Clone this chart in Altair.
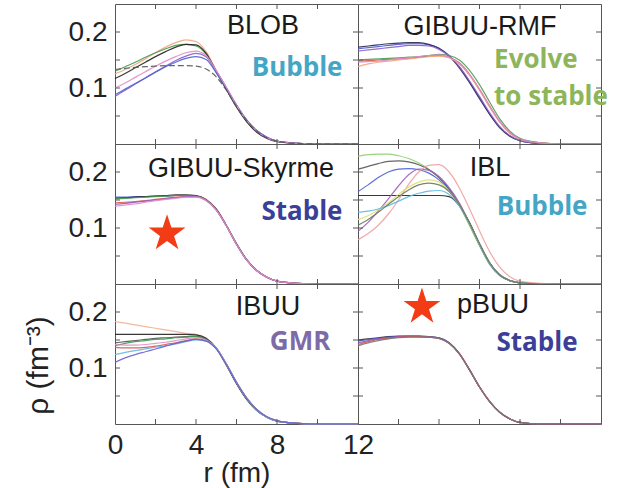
import altair as alt
import pandas as pd

# radial grid (fm)
R = [0, 0.5, 1, 1.5, 2, 2.5, 3, 3.5, 4, 4.5, 5, 5.5, 6, 6.5, 7, 7.5, 8, 9, 10, 12]

# ---------------- BLOB ----------------
BLOB_RUNS = ["orange", "green", "black", "dashed", "purple", "blue", "pink"]
BLOB_COLORS = ["#f3a37e", "#3e9a4c", "#222222", "#555555", "#8b5cc6", "#4a5fd0", "#e08cc8"]
BLOB_RHO = [
    [0.125, 0.133, 0.142, 0.152, 0.163, 0.173, 0.181, 0.186, 0.183, 0.165, 0.131, 0.100, 0.068, 0.042, 0.023, 0.012, 0.005, 0.001, 0, 0],
    [0.130, 0.138, 0.146, 0.155, 0.163, 0.170, 0.176, 0.178, 0.175, 0.160, 0.128, 0.097, 0.066, 0.040, 0.022, 0.011, 0.005, 0.001, 0, 0],
    [0.117, 0.126, 0.136, 0.146, 0.156, 0.165, 0.173, 0.178, 0.177, 0.162, 0.130, 0.098, 0.066, 0.040, 0.021, 0.010, 0.004, 0.001, 0, 0],
    [0.133, 0.135, 0.137, 0.138, 0.139, 0.140, 0.140, 0.140, 0.139, 0.134, 0.120, 0.096, 0.067, 0.042, 0.023, 0.011, 0.005, 0.001, 0, 0],
    [0.085, 0.096, 0.107, 0.118, 0.129, 0.139, 0.149, 0.157, 0.162, 0.156, 0.130, 0.101, 0.070, 0.043, 0.024, 0.012, 0.005, 0.001, 0, 0],
    [0.088, 0.098, 0.108, 0.118, 0.128, 0.138, 0.146, 0.153, 0.156, 0.151, 0.127, 0.099, 0.069, 0.043, 0.024, 0.012, 0.005, 0.001, 0, 0],
    [0.100, 0.109, 0.119, 0.129, 0.139, 0.148, 0.156, 0.163, 0.166, 0.158, 0.131, 0.101, 0.069, 0.042, 0.023, 0.011, 0.005, 0.001, 0, 0],
]

# ---------------- GIBUU-RMF ----------------
RMF_RUNS = ["blue", "navy", "purple", "red", "orange", "green", "pink"]
RMF_COLORS = ["#4a5fd0", "#2a2a55", "#8b5cc6", "#d9534f", "#f3a37e", "#4e9a55", "#e08cc8"]
RMF_RHO = [
    [0.170, 0.172, 0.174, 0.176, 0.178, 0.179, 0.179, 0.177, 0.171, 0.158, 0.138, 0.112, 0.083, 0.054, 0.030, 0.014, 0.006, 0.001, 0, 0],
    [0.173, 0.175, 0.177, 0.179, 0.180, 0.181, 0.181, 0.178, 0.171, 0.157, 0.136, 0.110, 0.081, 0.053, 0.029, 0.014, 0.006, 0.001, 0, 0],
    [0.166, 0.168, 0.170, 0.172, 0.174, 0.176, 0.176, 0.175, 0.169, 0.157, 0.138, 0.113, 0.085, 0.056, 0.031, 0.015, 0.006, 0.001, 0, 0],
    [0.148, 0.149, 0.150, 0.151, 0.152, 0.153, 0.155, 0.157, 0.158, 0.155, 0.145, 0.125, 0.098, 0.068, 0.040, 0.020, 0.009, 0.002, 0, 0],
    [0.138, 0.143, 0.146, 0.148, 0.150, 0.152, 0.154, 0.156, 0.157, 0.154, 0.143, 0.123, 0.096, 0.066, 0.039, 0.019, 0.008, 0.002, 0, 0],
    [0.150, 0.151, 0.152, 0.153, 0.154, 0.155, 0.156, 0.158, 0.160, 0.158, 0.150, 0.132, 0.106, 0.075, 0.045, 0.023, 0.010, 0.002, 0, 0],
    [0.146, 0.147, 0.148, 0.150, 0.152, 0.154, 0.156, 0.158, 0.159, 0.155, 0.144, 0.124, 0.097, 0.067, 0.040, 0.020, 0.009, 0.002, 0, 0],
]

# ---------------- GIBUU-Skyrme ----------------
SKY_RUNS = ["blue", "black", "green", "red", "purple", "pink"]
SKY_COLORS = ["#4a5fd0", "#222222", "#4e9a55", "#d9534f", "#8b5cc6", "#e08cc8"]
SKY_RHO = [
    [0.155, 0.155, 0.156, 0.156, 0.157, 0.157, 0.158, 0.158, 0.157, 0.150, 0.133, 0.104, 0.071, 0.043, 0.024, 0.012, 0.005, 0.001, 0, 0],
    [0.153, 0.154, 0.155, 0.156, 0.157, 0.158, 0.159, 0.159, 0.158, 0.151, 0.134, 0.105, 0.072, 0.044, 0.024, 0.012, 0.005, 0.001, 0, 0],
    [0.152, 0.153, 0.154, 0.155, 0.156, 0.157, 0.158, 0.158, 0.157, 0.150, 0.133, 0.104, 0.071, 0.043, 0.024, 0.012, 0.005, 0.001, 0, 0],
    [0.145, 0.146, 0.147, 0.149, 0.151, 0.153, 0.155, 0.156, 0.156, 0.150, 0.133, 0.104, 0.071, 0.043, 0.024, 0.012, 0.005, 0.001, 0, 0],
    [0.142, 0.144, 0.146, 0.148, 0.150, 0.152, 0.154, 0.156, 0.156, 0.149, 0.132, 0.104, 0.071, 0.043, 0.024, 0.012, 0.005, 0.001, 0, 0],
    [0.139, 0.141, 0.143, 0.146, 0.149, 0.151, 0.153, 0.155, 0.155, 0.149, 0.132, 0.104, 0.071, 0.043, 0.024, 0.012, 0.005, 0.001, 0, 0],
]

# ---------------- IBL ----------------
IBL_RUNS = ["black", "green", "gray", "blue", "magenta", "pink", "yellow", "cyan", "olive"]
IBL_COLORS = ["#222222", "#8fcf6a", "#555555", "#4a5fd0", "#a05cc0", "#f0a0a0", "#e0e070", "#5fb8e0", "#6a7a5a"]
IBL_RHO = [
    [0.158, 0.158, 0.158, 0.158, 0.158, 0.158, 0.158, 0.158, 0.158, 0.156, 0.140, 0.110, 0.072, 0.038, 0.016, 0.006, 0.002, 0, 0, 0],
    [0.228, 0.231, 0.232, 0.232, 0.229, 0.224, 0.216, 0.205, 0.190, 0.168, 0.140, 0.105, 0.068, 0.035, 0.015, 0.006, 0.002, 0, 0, 0],
    [0.205, 0.210, 0.215, 0.219, 0.220, 0.218, 0.213, 0.204, 0.190, 0.170, 0.142, 0.107, 0.070, 0.037, 0.016, 0.006, 0.002, 0, 0, 0],
    [0.165, 0.177, 0.190, 0.200, 0.205, 0.206, 0.204, 0.198, 0.186, 0.168, 0.142, 0.108, 0.070, 0.036, 0.015, 0.006, 0.002, 0, 0, 0],
    [0.094, 0.110, 0.130, 0.152, 0.175, 0.195, 0.205, 0.203, 0.192, 0.172, 0.145, 0.110, 0.072, 0.038, 0.016, 0.006, 0.002, 0, 0, 0],
    [0.079, 0.090, 0.105, 0.125, 0.150, 0.178, 0.200, 0.212, 0.213, 0.200, 0.172, 0.135, 0.095, 0.058, 0.030, 0.013, 0.005, 0.001, 0, 0],
    [0.115, 0.122, 0.132, 0.145, 0.160, 0.173, 0.182, 0.186, 0.182, 0.166, 0.141, 0.107, 0.070, 0.037, 0.016, 0.006, 0.002, 0, 0, 0],
    [0.128, 0.130, 0.134, 0.140, 0.148, 0.156, 0.162, 0.166, 0.167, 0.160, 0.140, 0.108, 0.071, 0.037, 0.016, 0.006, 0.002, 0, 0, 0],
    [0.105, 0.115, 0.128, 0.142, 0.156, 0.168, 0.177, 0.180, 0.177, 0.165, 0.142, 0.109, 0.072, 0.038, 0.016, 0.006, 0.002, 0, 0, 0],
]

# ---------------- IBUU ----------------
IBUU_RUNS = ["orange", "black", "gray", "green", "red", "pink", "cyan", "purple"]
IBUU_COLORS = ["#f3b08e", "#222222", "#555555", "#3e9a4c", "#d9534f", "#e08cc8", "#5fb8e0", "#6a5fd0"]
IBUU_RHO = [
    [0.183, 0.180, 0.177, 0.174, 0.171, 0.168, 0.165, 0.162, 0.160, 0.153, 0.136, 0.106, 0.073, 0.045, 0.025, 0.012, 0.005, 0.001, 0, 0],
    [0.160, 0.160, 0.160, 0.160, 0.160, 0.160, 0.160, 0.160, 0.159, 0.153, 0.135, 0.105, 0.072, 0.044, 0.024, 0.012, 0.005, 0.001, 0, 0],
    [0.145, 0.147, 0.149, 0.151, 0.153, 0.154, 0.155, 0.156, 0.157, 0.152, 0.136, 0.107, 0.074, 0.046, 0.025, 0.012, 0.005, 0.001, 0, 0],
    [0.140, 0.144, 0.147, 0.149, 0.151, 0.152, 0.154, 0.155, 0.156, 0.151, 0.135, 0.106, 0.073, 0.045, 0.025, 0.012, 0.005, 0.001, 0, 0],
    [0.137, 0.136, 0.136, 0.137, 0.139, 0.142, 0.145, 0.149, 0.152, 0.149, 0.135, 0.107, 0.075, 0.047, 0.026, 0.013, 0.006, 0.001, 0, 0],
    [0.142, 0.141, 0.141, 0.142, 0.144, 0.146, 0.149, 0.152, 0.154, 0.150, 0.136, 0.107, 0.074, 0.046, 0.025, 0.012, 0.005, 0.001, 0, 0],
    [0.124, 0.128, 0.131, 0.134, 0.137, 0.140, 0.143, 0.147, 0.150, 0.148, 0.135, 0.107, 0.074, 0.046, 0.025, 0.012, 0.005, 0.001, 0, 0],
    [0.110, 0.118, 0.124, 0.129, 0.134, 0.139, 0.144, 0.148, 0.151, 0.148, 0.134, 0.106, 0.074, 0.046, 0.026, 0.013, 0.006, 0.001, 0, 0],
]

# ---------------- pBUU ----------------
PBUU_RUNS = ["black", "blue", "purple", "red", "gray"]
PBUU_COLORS = ["#222222", "#4a5fd0", "#8b5cc6", "#d9534f", "#777777"]
PBUU_RHO = [
    [0.150, 0.152, 0.154, 0.156, 0.157, 0.157, 0.157, 0.156, 0.154, 0.145, 0.126, 0.097, 0.066, 0.040, 0.021, 0.009, 0.003, 0, 0, 0],
    [0.148, 0.151, 0.153, 0.155, 0.156, 0.157, 0.157, 0.156, 0.154, 0.145, 0.126, 0.097, 0.066, 0.040, 0.021, 0.009, 0.003, 0, 0, 0],
    [0.145, 0.149, 0.152, 0.154, 0.156, 0.156, 0.156, 0.155, 0.153, 0.144, 0.125, 0.097, 0.066, 0.040, 0.021, 0.009, 0.003, 0, 0, 0],
    [0.142, 0.147, 0.151, 0.153, 0.155, 0.156, 0.156, 0.155, 0.153, 0.144, 0.126, 0.098, 0.067, 0.041, 0.021, 0.009, 0.003, 0, 0, 0],
    [0.140, 0.145, 0.149, 0.152, 0.154, 0.155, 0.155, 0.155, 0.153, 0.144, 0.125, 0.097, 0.066, 0.040, 0.021, 0.009, 0.003, 0, 0, 0],
]

XTICKS = [2, 4, 6, 8, 10]
YTICKS = [0.05, 0.1, 0.15, 0.2]
XLABELS = [0, 4, 8, 12]
YLABELS = [0.1, 0.2]

# colours of the annotation words
BUBBLE = "#44a6c6"
EVOLVE = "#8db55a"
STABLE = "#3b3f98"
GMR = "#7d6aa8"
STAR = "#f23c16"
FRAME = "#555555"

# five-pointed star symbol (unit box)
STAR_PATH = ("M0,-1L0.2245,-0.309L0.951,-0.309L0.363,0.118L0.588,0.809L0,0.382"
             "L-0.588,0.809L-0.363,0.118L-0.951,-0.309L-0.2245,-0.309Z")

W, H = 243, 140
XS = alt.Scale(domain=[0, 12], nice=False, zero=False)
YS = alt.Scale(domain=[0, 0.25], nice=False, zero=False)


def curves_df(runs, colors, rhos):
    rec = []
    for run, col, vals in zip(runs, colors, rhos):
        for r, v in zip(R, vals):
            rec.append(dict(r=r, rho=v, run=run, color=col))
    return pd.DataFrame(rec)


def text_layer(ex, ey, txt, r, rho, color, font, size, weight, align):
    df = pd.DataFrame({"r": [r], "rho": [rho], "t": [txt]})
    return alt.Chart(df).mark_text(
        color=color, font=font, fontSize=size, fontWeight=weight,
        align=align, baseline="middle"
    ).encode(x=ex, y=ey, text="t:N")


def panel(runs, colors, rhos, name, name_pos, words, dashed=(), star=None, xaxis=None, yaxis=None):
    ex = alt.X("r:Q", scale=XS, axis=xaxis)
    ey = alt.Y("rho:Q", scale=YS, axis=yaxis)
    solid_i = [i for i, n in enumerate(runs) if n not in dashed]
    dash_i = [i for i, n in enumerate(runs) if n in dashed]
    df = curves_df([runs[i] for i in solid_i], [colors[i] for i in solid_i], [rhos[i] for i in solid_i])
    layers = [alt.Chart(df).mark_line(strokeWidth=1.2, interpolate="monotone", opacity=0.9).encode(
        x=ex, y=ey, color=alt.Color("color:N", scale=None), detail="run:N")]
    if dash_i:
        ddf = curves_df([runs[i] for i in dash_i], [colors[i] for i in dash_i], [rhos[i] for i in dash_i])
        layers.append(alt.Chart(ddf).mark_line(strokeWidth=1.2, interpolate="monotone", opacity=0.9,
                                               strokeDash=[6, 3]).encode(
            x=ex, y=ey, color=alt.Color("color:N", scale=None), detail="run:N"))
    xt = pd.DataFrame({"r": XTICKS})
    yt = pd.DataFrame({"rho": YTICKS})
    layers.append(alt.Chart(xt).mark_rule(color=FRAME).encode(x=ex, y=alt.value(H), y2=alt.value(H - 5)))
    layers.append(alt.Chart(xt).mark_rule(color=FRAME).encode(x=ex, y=alt.value(0), y2=alt.value(5)))
    layers.append(alt.Chart(yt).mark_rule(color=FRAME).encode(y=ey, x=alt.value(0), x2=alt.value(5)))
    layers.append(alt.Chart(yt).mark_rule(color=FRAME).encode(y=ey, x=alt.value(W - 5), x2=alt.value(W)))
    layers.append(text_layer(ex, ey, name, name_pos[0], name_pos[1], "#1a1a1a",
                             "Liberation Sans", 27, "normal", "center"))
    for (txt, r, rho, col, align) in words:
        layers.append(text_layer(ex, ey, txt, r, rho, col, "Open Sans", 26, "bold", align))
    if star is not None:
        sdf = pd.DataFrame({"r": [star[0]], "rho": [star[1]]})
        layers.append(alt.Chart(sdf).mark_point(shape=STAR_PATH, filled=True, size=1500,
                                                color=STAR, opacity=1).encode(x=ex, y=ey))
    return alt.layer(*layers).properties(width=W, height=H)


AX_Y = alt.Axis(values=YLABELS, format=".1f", title=None, labelPadding=8)
AX_Y_T = alt.Axis(values=YLABELS, format=".1f", title="ρ (fm⁻³)", labelPadding=8,
                  titleX=-68, titleY=81, titleAngle=270, titleAlign="center",
                  titleBaseline="alphabetic", titleFontSize=30)
AX_X = alt.Axis(values=XLABELS, format="d", title="r (fm)", labelFlush=False,
                labelPadding=7, titleY=57, titleBaseline="alphabetic")

p1 = panel(BLOB_RUNS, BLOB_COLORS, BLOB_RHO, "BLOB", (7.31, 0.210),
           [("Bubble", 8.99, 0.136, BUBBLE, "center")], dashed=("dashed",), yaxis=AX_Y)
p2 = panel(RMF_RUNS, RMF_COLORS, RMF_RHO, "GIBUU-RMF", (6.02, 0.209),
           [("Evolve", 6.72, 0.150, EVOLVE, "left"), ("to stable", 6.72, 0.084, EVOLVE, "left")])
p3 = panel(SKY_RUNS, SKY_COLORS, SKY_RHO, "GIBUU-Skyrme", (6.22, 0.206),
           [("Stable", 9.23, 0.129, STABLE, "center")], star=(2.57, 0.090), yaxis=AX_Y)
p4 = panel(IBL_RUNS, IBL_COLORS, IBL_RHO, "IBL", (6.52, 0.207),
           [("Bubble", 9.09, 0.138, BUBBLE, "center")])
p5 = panel(IBUU_RUNS, IBUU_COLORS, IBUU_RHO, "IBUU", (7.56, 0.209),
           [("GMR", 9.14, 0.147, GMR, "center")], xaxis=AX_X, yaxis=AX_Y_T)
p6 = panel(PBUU_RUNS, PBUU_COLORS, PBUU_RHO, "pBUU", (6.67, 0.212),
           [("Stable", 8.84, 0.145, STABLE, "center")], star=(3.16, 0.209))

chart = alt.concat(p1, p2, p3, p4, p5, p6, columns=2, spacing=0, bounds="flush").properties(
    padding={"left": 22, "top": 3, "right": 0, "bottom": 0}
).configure_view(stroke=FRAME, strokeWidth=1).configure_axis(
    grid=False, domain=False, ticks=False, tickSize=0,
    labelFont="Liberation Sans", labelFontSize=28, labelColor="#222222",
    titleFont="Liberation Sans", titleFontSize=28, titleFontWeight="normal", titleColor="#222222",
)

chart.save("out.html", embed_options={"renderer": "svg", "actions": False})
